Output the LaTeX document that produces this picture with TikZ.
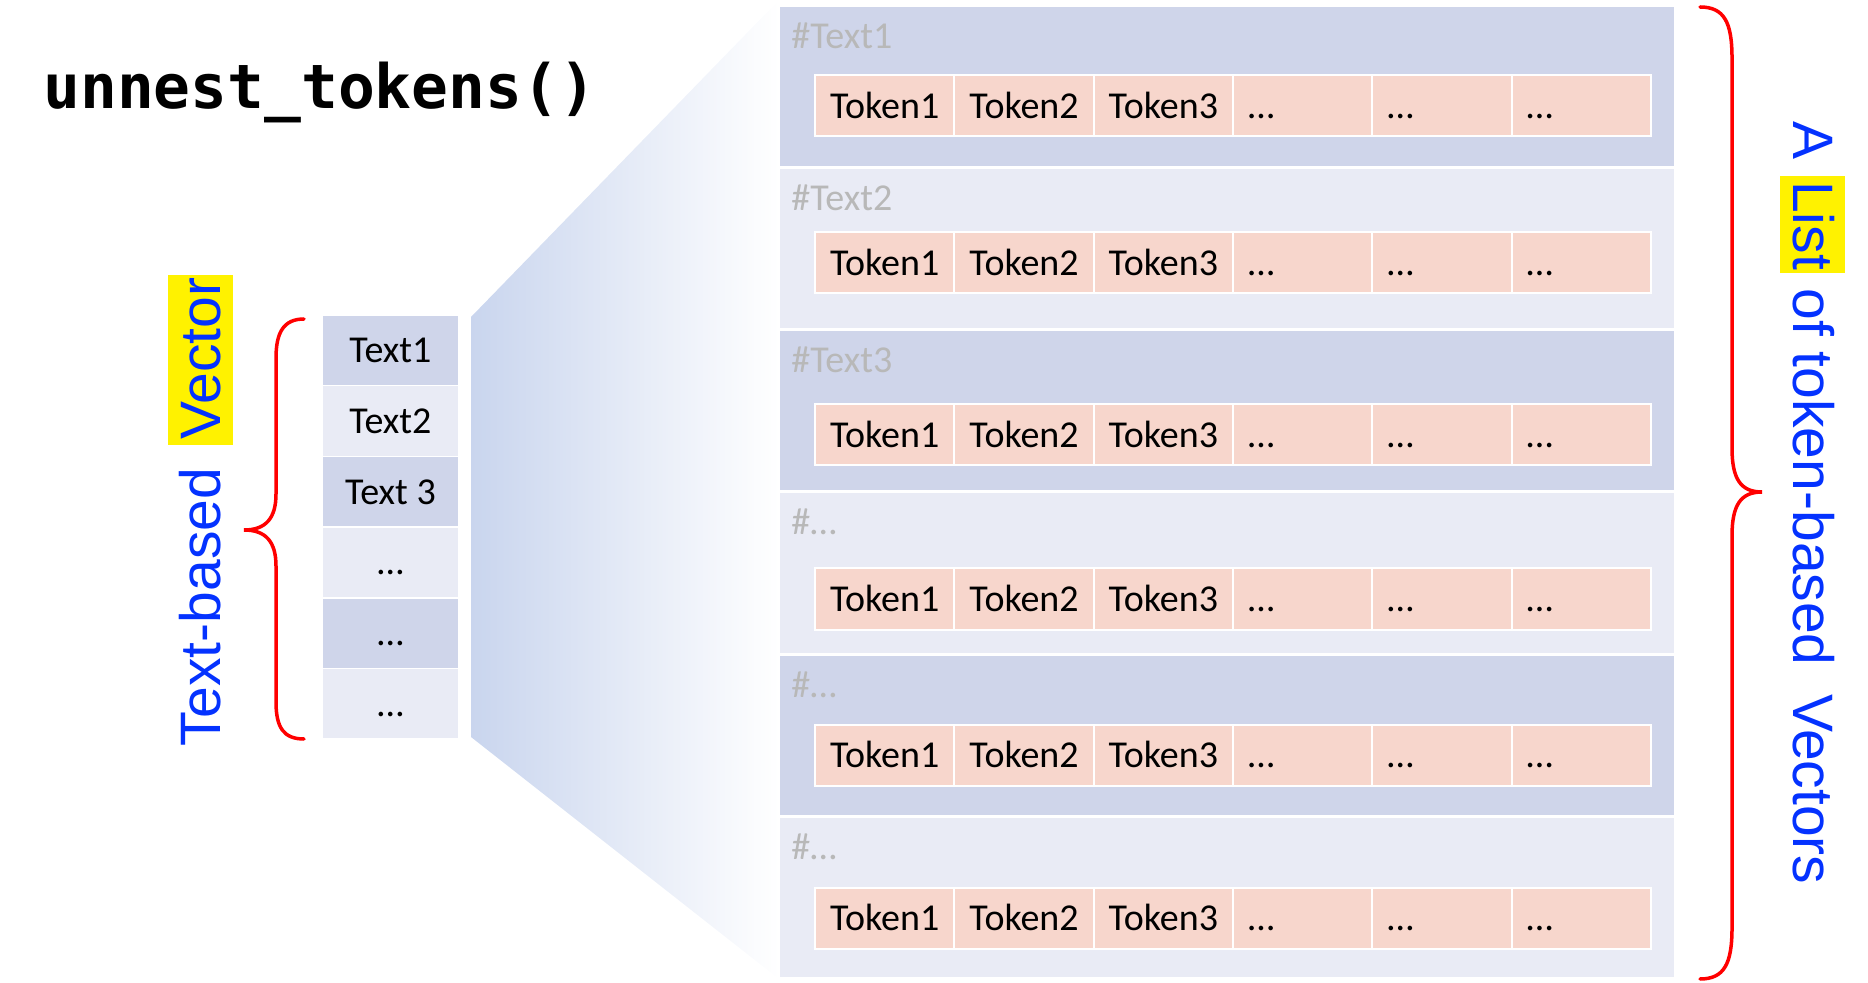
\documentclass[tikz,border=0pt]{standalone}
\usepackage{fontspec}
\setmainfont{Carlito}
\newfontfamily\labfont{Liberation Sans}
\newfontfamily\codefont{DejaVu Sans Mono}
\usepackage{tikz}
\usetikzlibrary{positioning}
\definecolor{rowdark}{HTML}{CFD5EA}
\definecolor{rowlight}{HTML}{E9EBF5}
\definecolor{tokfill}{HTML}{F7D6CC}
\definecolor{hashgray}{HTML}{B8B8B8}
\definecolor{labblue}{HTML}{0432FF}
\definecolor{fanblue}{HTML}{C9D5EE}
% yellow marker behind a word
\newcommand{\hlword}[1]{{\setlength{\fboxsep}{0pt}\colorbox{yellow}{\rule[-0.22em]{0pt}{1.14em}\kern0.1em#1\kern0.05em}}}

\begin{document}
\begin{tikzpicture}[x=0.5pt,y=-0.5pt,
      txt/.style ={draw=white,line width=0.75pt,minimum width=68.5pt,minimum height=35.35pt,inner sep=0pt,
                   font=\fontsize{19}{21}\selectfont,text height=12.5pt,text depth=0pt},
      row/.style ={draw=white,line width=0.5pt,minimum width=447.5pt,minimum height=80pt,inner sep=0pt},
      hash/.style={anchor=base west,inner sep=0pt,text=hashgray,font=\fontsize{19}{21}\selectfont},
      tok/.style ={draw=white,line width=1pt,fill=tokfill,minimum height=30.5pt,text width=54.67pt,
                   inner xsep=7.5pt,inner ysep=0pt,align=left,font=\fontsize{19}{21}\selectfont,
                   text height=12.5pt,text depth=0pt},
      vlab/.style={anchor=base,inner sep=0pt,text=labblue,font=\labfont\fontsize{28.5}{30}\selectfont},
      brace/.style={draw=red,line width=1.75pt,line cap=round}]
  \useasboundingbox (0,0) rectangle (1868,983);
  % Title
  \node[anchor=base west,inner sep=0pt,font=\codefont\bfseries\fontsize{30.6}{36}\selectfont] (title) at (43,109) {unnest\_tokens()};
  % Fan from the vector to the list
  \shade[left color=fanblue,right color=white] (471,317) -- (779,0) -- (779,979) -- (471,737) -- cycle;
  % Text-based vector
  \foreach \t/\c [count=\i] in {Text1/rowdark,Text2/rowlight,Text 3/rowdark,\ldots/rowlight,\ldots/rowdark,\ldots/rowlight}
    \node[txt,fill=\c] (tx\i) at (390.5,{315+70.7*(\i-0.5)}) {\t};
  % List rows
  \foreach \c/\lab [count=\i] in {rowdark/\#Text1,rowlight/\#Text2,rowdark/\#Text3,rowlight/\#\ldots,rowdark/\#\ldots,rowlight/\#\ldots}{
    \node[row,fill=\c] (row\i) at (1226.5,{7+162*(\i-1)+80}) {};
    \node[hash] (hash\i) at (791,{7+162*(\i-1)+42}) {\lab};
  }
  % Tokens
  \foreach \sy [count=\r] in {106,263,435,599,755,918}
    \foreach \tk [count=\c] in {Token1,Token2,Token3,\ldots,\ldots,\ldots}
      \node[tok] (tk\r-\c) at ({815+139.33*(\c-0.5)},\sy) {\tk};
  % Braces
  \draw[brace] (304,319) .. controls (284,319) and (276,332) .. (276,358) -- (276,494)
     .. controls (276,518) and (266,530) .. (244,530) .. controls (266,530) and (276,542) .. (276,566)
     -- (276,702) .. controls (276,728) and (284,739) .. (304,739);
  \draw[brace] (1700,7) .. controls (1724,7) and (1732,22) .. (1732,58) -- (1732,448)
     .. controls (1732,478) and (1740,492) .. (1762,492) .. controls (1740,492) and (1732,506) .. (1732,536)
     -- (1732,928) .. controls (1732,964) and (1724,979) .. (1700,979);
  % Labels
  \node[vlab,rotate=90] (vecLab) at (220,511) {Text-based\hspace{0.4em}\hlword{Vector}};
  \node[vlab,rotate=-90] (listLab) at (1793,503) {A \hlword{List} of token-based\hspace{0.5em}Vectors};
\end{tikzpicture}
\end{document}
